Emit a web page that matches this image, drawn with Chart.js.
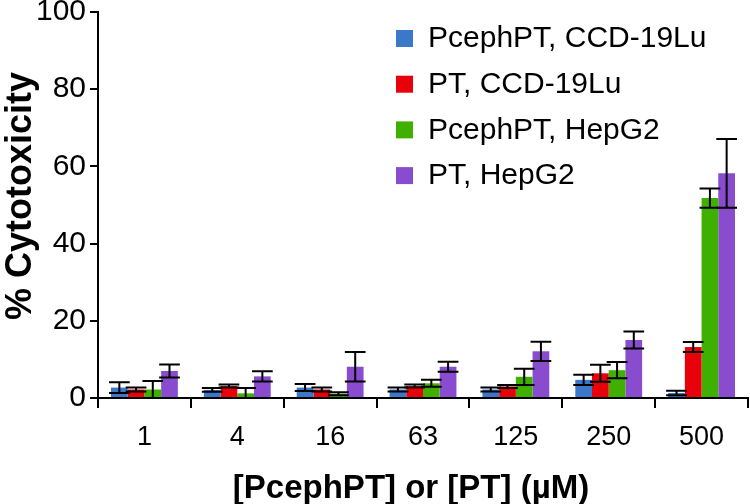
<!DOCTYPE html>
<html>
<head>
<meta charset="utf-8">
<script src="https://cdn.jsdelivr.net/npm/chart.js@4"></script>
<style>
  html, body { margin: 0; padding: 0; background: #fff; }
  #wrap { width: 750px; height: 504px; }
</style>
</head>
<body>
<div id="wrap"><canvas id="cytoChart" width="750" height="504"></canvas></div>
<script>
const FONT = "'Liberation Sans', Arial, sans-serif";

const concentrations = ["1", "4", "16", "63", "125", "250", "500"];
const seriesNames = ["PcephPT, CCD-19Lu", "PT, CCD-19Lu", "PcephPT, HepG2", "PT, HepG2"];
const seriesColors = ["#3b78c9", "#e8000b", "#3fb000", "#8a4ccf"];
const xTitle = "[PcephPT] or [PT] (µM)";
const yTitle = "% Cytotoxicity";

// mean % cytotoxicity
const pcephCCD = [2.7, 2.1, 2.7, 2.2, 2.2, 4.7, 1.3];
const ptCCD = [2.2, 3.1, 2.2, 3.1, 3.0, 6.4, 13.2];
const pcephHep = [2.2, 1.2, 1.1, 3.8, 5.5, 7.2, 51.8];
const ptHep = [7.0, 5.6, 8.1, 8.1, 12.1, 15.0, 58.2];

// error bar half-widths
const pcephCCDErr = [1.4, 0.5, 0.9, 0.5, 0.5, 1.3, 0.6];
const ptCCDErr = [0.5, 0.4, 0.5, 0.4, 0.4, 2.2, 1.3];
const pcephHepErr = [2.2, 1.4, 0.4, 0.9, 2.1, 2.1, 2.5];
const ptHepErr = [1.7, 1.3, 3.8, 1.3, 2.5, 2.2, 8.9];

const yTicks = [0, 20, 40, 60, 80, 100];

const means = [pcephCCD, ptCCD, pcephHep, ptHep];
const errs = [pcephCCDErr, ptCCDErr, pcephHepErr, ptHepErr];

// draws the +/- error bars on top of the bars
const errorBars = {
    id: "errorBars",
    afterDatasetsDraw(chart) {
        const ctx = chart.ctx;
        const y = chart.scales.y;
        ctx.save();
        ctx.strokeStyle = "#000";
        ctx.lineWidth = 2;
        chart.data.datasets.forEach((ds, i) => {
            const meta = chart.getDatasetMeta(i);
            meta.data.forEach((bar, j) => {
                const e = ds.errors[j];
                const hi = y.getPixelForValue(ds.data[j] + e);
                const lo = y.getPixelForValue(Math.max(0, ds.data[j] - e));
                const half = bar.width / 2 + 2;
                ctx.beginPath();
                ctx.moveTo(bar.x, hi);
                ctx.lineTo(bar.x, lo);
                ctx.moveTo(bar.x - half, hi);
                ctx.lineTo(bar.x + half, hi);
                ctx.moveTo(bar.x - half, lo);
                ctx.lineTo(bar.x + half, lo);
                ctx.stroke();
            });
        });
        ctx.restore();
    }
};

// legend inside the plot (top right) and the two axis titles
const labelsPlugin = {
    id: "labelsPlugin",
    afterDraw(chart) {
        const ctx = chart.ctx;
        ctx.save();
        ctx.font = "30px " + FONT;
        ctx.textBaseline = "middle";
        ctx.textAlign = "left";
        chart.data.datasets.forEach((ds, i) => {
            const cy = 38 + i * 45.7;
            ctx.fillStyle = ds.backgroundColor;
            ctx.fillRect(396, cy - 8, 17, 17);
            ctx.fillStyle = "#000";
            ctx.fillText(ds.label, 428, cy + 1);
        });

        ctx.font = "bold 33px " + FONT;
        ctx.textAlign = "center";
        ctx.fillText(xTitle, 411, 489);

        ctx.font = "bold 36px " + FONT;
        ctx.translate(21, 196);
        ctx.rotate(-Math.PI / 2);
        ctx.fillText(yTitle, 0, 0);
        ctx.restore();
    }
};

const ctx = document.getElementById("cytoChart").getContext("2d");
const chart = new Chart(ctx, {
    type: "bar",
    data: {
        labels: concentrations,
        datasets: seriesNames.map((name, i) => ({
            label: name,
            data: means[i],
            errors: errs[i],
            backgroundColor: seriesColors[i],
            borderWidth: 0,
            categoryPercentage: 0.72,
            barPercentage: 1.0
        }))
    },
    options: {
        responsive: false,
        animation: false,
        devicePixelRatio: 1,
        layout: { padding: { top: 12, right: 2, left: 0, bottom: 0 } },
        plugins: {
            legend: { display: false },
            tooltip: { enabled: false }
        },
        scales: {
            x: {
                grid: {
                    display: true,
                    drawOnChartArea: false,
                    offset: true,
                    tickLength: 10,
                    color: "#000",
                    lineWidth: 2
                },
                border: { color: "#000", width: 2 },
                ticks: {
                    color: "#000",
                    font: { family: FONT, size: 27 },
                    padding: 13
                },
                afterFit(scale) {
                    scale.height = 106;
                    scale.paddingLeft = 0;
                    scale.paddingRight = 0;
                }
            },
            y: {
                min: 0,
                max: 100,
                afterBuildTicks(scale) { scale.ticks = yTicks.map(v => ({ value: v })); },
                grid: {
                    display: true,
                    drawOnChartArea: false,
                    tickLength: 8,
                    color: "#000",
                    lineWidth: 2
                },
                border: { color: "#000", width: 2 },
                ticks: {
                    color: "#000",
                    font: { family: FONT, size: 30 },
                    padding: 4
                },
                afterFit(scale) {
                    scale.width = 98;
                    scale.paddingTop = 0;
                    scale.paddingBottom = 0;
                }
            }
        }
    },
    plugins: [errorBars, labelsPlugin]
});
</script>
</body>
</html>
